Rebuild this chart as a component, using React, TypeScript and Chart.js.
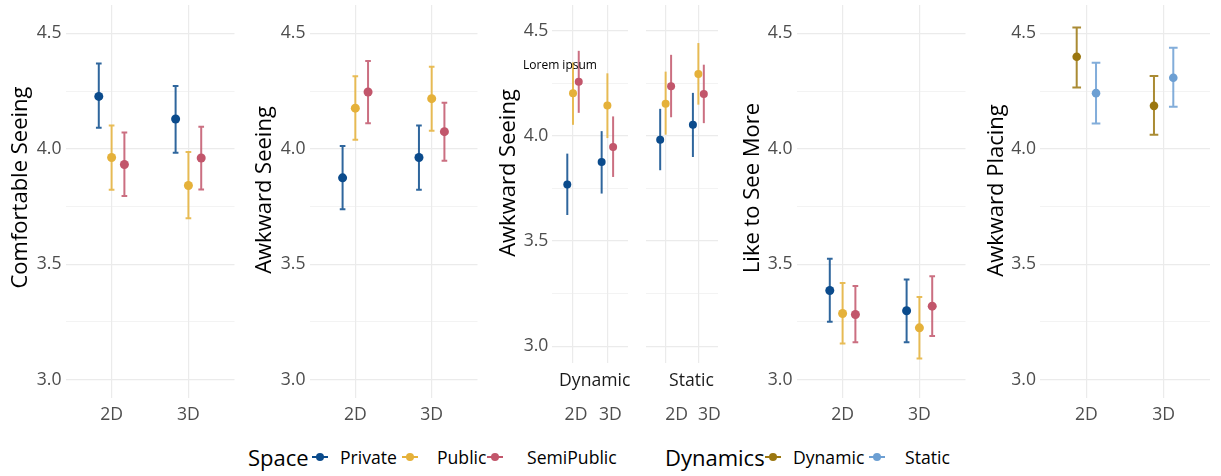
import React, { useEffect, useRef } from "react";
import { Chart, registerables } from "chart.js";

Chart.register(...registerables);

const FONT = "'Open Sans', sans-serif";
const GRID = "#ebebeb";

const dimLabels = ["2D", "3D"];
const spaceGroups = ["Private", "Public", "SemiPublic"];
const dynamicsGroups = ["Dynamic", "Static"];
const spaceColors = ["#0b4b8c", "#e5b13a", "#c2566b"];
const dynamicsColors = ["#9b7710", "#6c9fd3"];
const yMajorTicks = [3.0, 3.5, 4.0, 4.5];
const yMinorTicks = [3.25, 3.75, 4.25];

// rows: Private, Public, SemiPublic ; columns: 2D, 3D
const comfortMean = [[4.227, 4.129], [3.962, 3.841], [3.932, 3.96]];
const comfortLow = [[4.091, 3.983], [3.822, 3.699], [3.795, 3.824]];
const comfortHigh = [[4.369, 4.272], [4.101, 3.986], [4.071, 4.095]];

const awkwardMean = [[3.874, 3.962], [4.176, 4.217], [4.246, 4.074]];
const awkwardLow = [[3.738, 3.822], [4.039, 4.078], [4.111, 3.948]];
const awkwardHigh = [[4.012, 4.101], [4.314, 4.355], [4.38, 4.199]];

// Awkward Seeing split by Dynamics facet
const awkDynMean = [[3.769, 3.876], [4.203, 4.145], [4.258, 3.947]];
const awkDynLow = [[3.624, 3.726], [4.053, 3.99], [4.11, 3.805]];
const awkDynHigh = [[3.916, 4.023], [4.35, 4.298], [4.405, 4.093]];
const awkStatMean = [[3.982, 4.053], [4.153, 4.295], [4.236, 4.2]];
const awkStatLow = [[3.837, 3.9], [4.006, 4.149], [4.089, 4.061]];
const awkStatHigh = [[4.129, 4.205], [4.306, 4.442], [4.386, 4.339]];

const likeMean = [[3.386, 3.298], [3.286, 3.224], [3.282, 3.318]];
const likeLow = [[3.25, 3.162], [3.156, 3.091], [3.162, 3.189]];
const likeHigh = [[3.523, 3.434], [3.418, 3.358], [3.405, 3.448]];

// rows: Dynamic, Static
const placingMean = [[4.399, 4.186], [4.241, 4.308]];
const placingLow = [[4.266, 4.061], [4.11, 4.182]];
const placingHigh = [[4.526, 4.315], [4.373, 4.438]];

const noteText = "Lorem ipsum";
const noteX = 0.62;
const noteY = 4.334;

const Y_MIN = 2.92;
const Y_MAX = 4.623;
const CANVAS_H = 432;

type PanelProps = {
  left: number;
  width: number;
  yAxisWidth: number;
  padRight: number;
  plotTop: number;
  plotBottom: number;
  xTickPad: number;
  labelOffset?: number;
  title?: string;
  titleShift: number;
  showYAxis: boolean;
  mean: number[][];
  low: number[][];
  high: number[][];
  names: string[];
  colors: string[];
  dodge: number;
  cap: number;
  radius: number;
  strip?: string;
  stripShift?: number;
  note?: boolean;
};

function Panel(p: PanelProps) {
  const ref = useRef<HTMLCanvasElement>(null);
  useEffect(() => {
    const canvas = ref.current;
    if (!canvas) return;
    const n = p.mean.length;
    const datasets = p.mean.map((row, s) => ({
      label: p.names[s],
      data: row.map((v, i) => ({ x: i + 1 + (s - (n - 1) / 2) * p.dodge, y: v })),
      backgroundColor: p.colors[s],
      borderColor: p.colors[s],
      borderWidth: 0,
      pointRadius: p.radius,
      pointHoverRadius: p.radius,
    }));

    const errorBars = {
      id: "errorBars",
      beforeDatasetsDraw(chart: any) {
        const { ctx, scales } = chart;
        const xs = scales.x;
        const ys = scales.y;
        ctx.save();
        chart.data.datasets.forEach((ds: any, s: number) => {
          ds.data.forEach((pt: any, i: number) => {
            const px = xs.getPixelForValue(pt.x);
            const lo = ys.getPixelForValue(p.low[s][i]);
            const hi = ys.getPixelForValue(p.high[s][i]);
            ctx.strokeStyle = p.colors[s];
            ctx.globalAlpha = 0.85;
            ctx.lineWidth = 2;
            ctx.lineCap = "butt";
            ctx.beginPath();
            ctx.moveTo(px, lo);
            ctx.lineTo(px, hi);
            if (p.cap > 0) {
              const cw = xs.getPixelForValue(pt.x + p.cap) - px;
              ctx.moveTo(px - cw, lo);
              ctx.lineTo(px + cw, lo);
              ctx.moveTo(px - cw, hi);
              ctx.lineTo(px + cw, hi);
            }
            ctx.stroke();
          });
        });
        ctx.restore();
      },
    };

    const extras = {
      id: "extras",
      afterDraw(chart: any) {
        const { ctx, chartArea, scales } = chart;
        ctx.save();
        if (p.showYAxis && p.title) {
          ctx.save();
          ctx.font = `22px ${FONT}`;
          ctx.fillStyle = "#000000";
          ctx.textAlign = "center";
          ctx.textBaseline = "middle";
          ctx.translate(20.5, (chartArea.top + chartArea.bottom) / 2 + p.titleShift);
          ctx.rotate(-Math.PI / 2);
          ctx.fillText(p.title, 0, 0);
          ctx.restore();
        }
        if (p.strip) {
          ctx.font = `17.6px ${FONT}`;
          ctx.fillStyle = "#1a1a1a";
          ctx.textAlign = "center";
          ctx.textBaseline = "middle";
          ctx.fillText(p.strip, (chartArea.left + chartArea.right) / 2 + (p.stripShift ?? 0), chartArea.bottom + 18);
        }
        if (p.note) {
          ctx.font = `12px ${FONT}`;
          ctx.fillStyle = "#000000";
          ctx.textAlign = "center";
          ctx.textBaseline = "middle";
          ctx.fillText(noteText, scales.x.getPixelForValue(noteX), scales.y.getPixelForValue(noteY));
        }
        ctx.restore();
      },
    };

    const chart = new Chart(canvas, {
      type: "scatter",
      data: { datasets } as any,
      options: {
        responsive: false,
        animation: false,
        events: [],
        layout: { padding: { top: p.plotTop, right: p.padRight, bottom: 0, left: 0 } },
        plugins: { legend: { display: false }, tooltip: { enabled: false } },
        scales: {
          x: {
            type: "linear",
            min: 0.4,
            max: 2.6,
            afterBuildTicks: (sc: any) => {
              sc.ticks = dimLabels.map((_, i) => ({ value: i + 1 }));
            },
            afterFit: (sc: any) => {
              sc.height = CANVAS_H - p.plotBottom;
              sc.paddingLeft = 0;
              sc.paddingRight = 0;
            },
            ticks: {
              autoSkip: false,
              maxRotation: 0,
              padding: p.xTickPad,
              labelOffset: p.labelOffset ?? 0,
              color: "#4d4d4d",
              font: { family: FONT, size: 17.6 },
              callback: (v: any) => dimLabels[Math.round(Number(v)) - 1] ?? "",
            },
            grid: { color: GRID, lineWidth: 1.2, drawTicks: false },
            border: { display: false },
          },
          y: {
            type: "linear",
            min: Y_MIN,
            max: Y_MAX,
            afterBuildTicks: (sc: any) => {
              sc.ticks = [...yMajorTicks, ...yMinorTicks].sort((a, b) => a - b).map((v) => ({ value: v }));
            },
            afterFit: (sc: any) => {
              sc.width = p.yAxisWidth;
              sc.paddingTop = 0;
              sc.paddingBottom = 0;
            },
            ticks: {
              display: p.showYAxis,
              autoSkip: false,
              padding: 4,
              color: "#4d4d4d",
              font: { family: FONT, size: 17.6 },
              callback: (v: any) => (yMajorTicks.includes(Number(v)) ? Number(v).toFixed(1) : ""),
            },
            title: { display: false },
            grid: {
              color: GRID,
              lineWidth: (ctx: any) => (yMajorTicks.includes(ctx.tick?.value) ? 1.2 : 0.6),
              drawTicks: false,
            },
            border: { display: false },
          },
        },
      } as any,
      plugins: [errorBars, extras],
    });
    return () => chart.destroy();
  }, []);
  return (
    <canvas
      ref={ref}
      width={p.width}
      height={CANVAS_H}
      style={{ position: "absolute", left: p.left, top: 0, width: p.width, height: CANVAS_H }}
    />
  );
}

function LegendKey({ cx, color }: { cx: number; color: string }) {
  return (
    <>
      <div style={{ position: "absolute", left: cx - 8, top: 456, width: 16, height: 2, background: color }} />
      <div
        style={{ position: "absolute", left: cx - 4, top: 453, width: 8, height: 8, borderRadius: 4, background: color }}
      />
    </>
  );
}

function LegendText({ x, text, size }: { x: number; text: string; size: number }) {
  const lh = 30;
  return (
    <div
      style={{
        position: "absolute",
        left: x,
        top: 457 - lh / 2,
        height: lh,
        lineHeight: `${lh}px`,
        fontSize: size,
        fontFamily: FONT,
        color: "#000",
        whiteSpace: "nowrap",
      }}
    >
      {text}
    </div>
  );
}

export default function App() {
  const common = {
    plotTop: 5,
    plotBottom: 398,
    xTickPad: 6,
    cap: 0.037,
    radius: 4.5,
    showYAxis: true,
    titleShift: -12.5,
  };
  return (
    <div style={{ position: "absolute", left: 0, top: 0, width: 1221, height: 476, background: "#fff", overflow: "hidden" }}>
      <Panel
        {...common}
        left={0}
        width={244}
        yAxisWidth={65.5}
        padRight={9.5}
        title="Comfortable Seeing"
        titleShift={-14}
        mean={comfortMean}
        low={comfortLow}
        high={comfortHigh}
        names={spaceGroups}
        colors={spaceColors}
        dodge={1 / 6}
      />
      <Panel
        {...common}
        left={244}
        width={244}
        yAxisWidth={65.5}
        padRight={10.5}
        title="Awkward Seeing"
        titleShift={-11.5}
        mean={awkwardMean}
        low={awkwardLow}
        high={awkwardHigh}
        names={spaceGroups}
        colors={spaceColors}
        dodge={1 / 6}
      />
      <Panel
        {...common}
        plotBottom={363}
        xTickPad={41}
        labelOffset={3}
        cap={0}
        radius={4}
        left={488}
        width={144}
        yAxisWidth={64.4}
        padRight={0}
        title="Awkward Seeing"
        titleShift={-11}
        mean={awkDynMean}
        low={awkDynLow}
        high={awkDynHigh}
        names={spaceGroups}
        colors={spaceColors}
        dodge={1 / 6}
        strip="Dynamic"
        stripShift={4.5}
        note
      />
      <Panel
        {...common}
        plotBottom={363}
        xTickPad={41}
        labelOffset={11}
        cap={0}
        radius={4}
        showYAxis={false}
        left={642}
        width={80}
        yAxisWidth={0}
        padRight={0}
        mean={awkStatMean}
        low={awkStatLow}
        high={awkStatHigh}
        names={spaceGroups}
        colors={spaceColors}
        dodge={1 / 6}
        strip="Static"
        stripShift={9.5}
      />
      <Panel
        {...common}
        left={732}
        width={244}
        yAxisWidth={64.5}
        padRight={10.5}
        title="Like to See More"
        titleShift={-13.5}
        mean={likeMean}
        low={likeLow}
        high={likeHigh}
        names={spaceGroups}
        colors={spaceColors}
        dodge={1 / 6}
      />
      <Panel
        {...common}
        left={976}
        width={245}
        yAxisWidth={64}
        padRight={11}
        cap={0.056}
        radius={4.3}
        title="Awkward Placing"
        titleShift={-11}
        mean={placingMean}
        low={placingLow}
        high={placingHigh}
        names={dynamicsGroups}
        colors={dynamicsColors}
        dodge={1 / 4}
      />
      <LegendText x={248} text="Space" size={22} />
      <LegendKey cx={320} color={spaceColors[0]} />
      <LegendText x={340} text={spaceGroups[0]} size={17.6} />
      <LegendKey cx={410} color={spaceColors[1]} />
      <LegendText x={437} text={spaceGroups[1]} size={17.6} />
      <LegendKey cx={495} color={spaceColors[2]} />
      <LegendText x={527} text={spaceGroups[2]} size={17.6} />
      <LegendText x={665} text="Dynamics" size={22} />
      <LegendKey cx={773} color={dynamicsColors[0]} />
      <LegendText x={793} text={dynamicsGroups[0]} size={17.6} />
      <LegendKey cx={877} color={dynamicsColors[1]} />
      <LegendText x={905} text={dynamicsGroups[1]} size={17.6} />
    </div>
  );
}
